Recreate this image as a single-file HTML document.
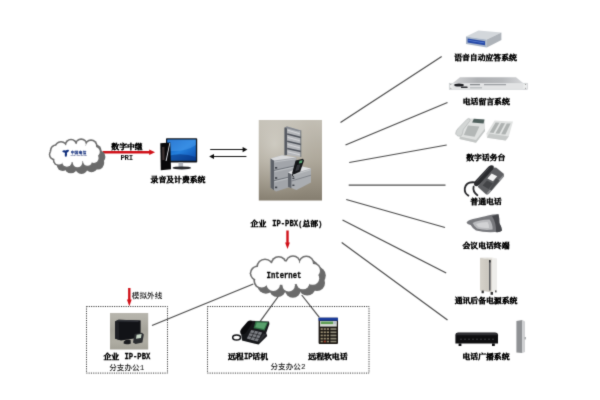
<!DOCTYPE html>
<html lang="zh-CN">
<head>
<meta charset="utf-8">
<title>企业 IP-PBX 组网图</title>
<style>
html,body{margin:0;padding:0;background:#fff;}
body{width:600px;height:400px;overflow:hidden;position:relative;}
#stage{position:absolute;left:0;top:0;width:600px;height:400px;background:#fff;overflow:hidden;will-change:transform;filter:url(#soft);}
svg{position:absolute;left:0;top:0;}
.t{position:absolute;white-space:nowrap;line-height:1;color:#000;transform:translateX(-50%) scaleY(0.9);transform-origin:50% 50%;
   font-family:"Liberation Mono","Noto Serif CJK SC",serif;font-weight:400;font-size:7.85px;-webkit-text-stroke:0.65px #000;}
.l{font-weight:700;-webkit-text-stroke:0.3px #000;}
.l{display:inline-block;font-size:9.2px;line-height:0;transform:scaleX(0.78);transform-origin:0 50%;vertical-align:baseline;}
.r{font-family:"Liberation Mono","Noto Sans CJK SC",sans-serif;font-weight:500;font-size:7.6px;color:#111;-webkit-text-stroke:0;transform:translateX(-50%) scaleY(0.96);}
.box{position:absolute;border:1px dotted #3c3c3c;box-sizing:border-box;}
</style>
</head>
<body>
<svg width="0" height="0" style="position:absolute;width:0;height:0;" aria-hidden="true">
<filter id="soft" x="0" y="0" width="100%" height="100%" color-interpolation-filters="sRGB"><feConvolveMatrix order="3" kernelMatrix="0.02 0.09 0.02 0.09 0.56 0.09 0.02 0.09 0.02" divisor="1" edgeMode="duplicate" preserveAlpha="true"/></filter>
</svg>
<div id="stage">
<svg width="600" height="400" viewBox="0 0 600 400">
<defs>
<linearGradient id="gpbx" x1="0" y1="0" x2="0" y2="1">
<stop offset="0" stop-color="#c4c0b6"/><stop offset="0.5" stop-color="#aea89b"/><stop offset="0.8" stop-color="#968f81"/><stop offset="1" stop-color="#857e70"/>
</linearGradient>
<radialGradient id="gpbxr" cx="0.25" cy="0.3" r="0.8">
<stop offset="0" stop-color="#e0ded7" stop-opacity="0.55"/><stop offset="0.6" stop-color="#c8c4ba" stop-opacity="0.2"/><stop offset="1" stop-color="#a09888" stop-opacity="0"/>
</radialGradient>
<linearGradient id="grack" x1="0" y1="0" x2="1" y2="0">
<stop offset="0" stop-color="#d2d3d5"/><stop offset="0.35" stop-color="#aeb0b3"/><stop offset="0.7" stop-color="#b6b8bb"/><stop offset="1" stop-color="#d6d7d9"/>
</linearGradient>
<linearGradient id="gups" x1="0" y1="0" x2="1" y2="0">
<stop offset="0" stop-color="#d6d2ca"/><stop offset="0.6" stop-color="#cbc7bf"/><stop offset="1" stop-color="#dedbd5"/>
</linearGradient>
<linearGradient id="gpbx2" x1="0" y1="0" x2="0" y2="1">
<stop offset="0" stop-color="#b8b6ae"/><stop offset="0.45" stop-color="#a6a49b"/><stop offset="0.8" stop-color="#aeaca2"/><stop offset="1" stop-color="#a3a197"/>
</linearGradient>
<linearGradient id="gmon" x1="0" y1="0" x2="1" y2="1">
<stop offset="0" stop-color="#0b56b8"/><stop offset="0.5" stop-color="#2480dc"/><stop offset="1" stop-color="#0a48a8"/>
</linearGradient>
</defs>

<!-- radiating lines -->
<g stroke="#4c4c4c" stroke-width="1.2" fill="none" stroke-linecap="butt">
<line x1="340.5" y1="122.5" x2="441.7" y2="56.5"/>
<line x1="345.5" y1="145" x2="447.5" y2="102.5"/>
<line x1="349.2" y1="162.5" x2="446.7" y2="145"/>
<line x1="348.7" y1="185.1" x2="445.5" y2="185.1" stroke-width="1.4"/>
<line x1="346.2" y1="199.5" x2="445" y2="227.5"/>
<line x1="342.5" y1="220" x2="446.2" y2="273"/>
<line x1="341.7" y1="242.5" x2="447.5" y2="320"/>
<line x1="253.3" y1="284" x2="152" y2="325.5"/>
<line x1="279.3" y1="295" x2="260" y2="321.7"/>
<line x1="301.7" y1="295" x2="319.3" y2="317.3"/>
</g>

<!-- dotted boxes -->
<g fill="none" stroke="#303030" stroke-width="1" stroke-dasharray="1.1 1.2">
<rect x="86.5" y="306.5" width="81" height="66.6"/>
<rect x="207.5" y="306.5" width="161.5" height="66.6"/>
</g>

<!-- double arrows -->
<g stroke="#161616" stroke-width="1.1" fill="#0c0c0c">
<line x1="210.2" y1="149.5" x2="244" y2="149.5"/>
<path d="M247.4 149.6 L242.6 147 L242.6 152.2 Z" stroke="none"/>
<line x1="213" y1="156.5" x2="246.4" y2="156.5"/>
<path d="M209.2 156.5 L214 153.9 L214 159.1 Z" stroke="none"/>
</g>

<!-- red arrows -->
<g stroke="#d01018" fill="#d01018">
<line x1="102.6" y1="152.2" x2="150.4" y2="152.2" stroke-width="2.4"/>
<path d="M155 152.3 L149.2 149.6 L149.2 155 Z" stroke="none"/>
<line x1="287.5" y1="230.5" x2="287.5" y2="243.4" stroke-width="2.4"/>
<path d="M287.5 249 L285.1 242.4 L289.9 242.4 Z" stroke="none"/>
<line x1="129.3" y1="288" x2="129.3" y2="300.4" stroke-width="2.4"/>
<path d="M129.3 306.2 L126.9 299.6 L131.7 299.6 Z" stroke="none"/>
</g>

<!-- telecom cloud -->
<g transform="translate(4,5)" fill="#6a6a6a">
<ellipse cx="61.0" cy="147.8" rx="6.8" ry="6.8"/>
<ellipse cx="71.0" cy="145.1" rx="6.4" ry="6.4"/>
<ellipse cx="81.2" cy="144.5" rx="6.2" ry="6.2"/>
<ellipse cx="91.0" cy="146.0" rx="6.7" ry="6.7"/>
<ellipse cx="95.0" cy="151.9" rx="6.4" ry="6.4"/>
<ellipse cx="93.8" cy="158.1" rx="6.4" ry="6.4"/>
<ellipse cx="87.5" cy="161.2" rx="6.0" ry="6.0"/>
<ellipse cx="77.5" cy="162.5" rx="6.4" ry="6.4"/>
<ellipse cx="66.9" cy="161.9" rx="6.4" ry="6.4"/>
<ellipse cx="58.8" cy="160.0" rx="6.0" ry="6.0"/>
<ellipse cx="54.8" cy="154.4" rx="6.0" ry="6.0"/>
<ellipse cx="56.2" cy="150.6" rx="6.4" ry="6.4"/>
<ellipse cx="75.0" cy="153.1" rx="19.6" ry="10.8"/>
</g>
<g fill="#6e6e6e">
<ellipse cx="61.0" cy="147.8" rx="6.8" ry="6.8"/>
<ellipse cx="71.0" cy="145.1" rx="6.4" ry="6.4"/>
<ellipse cx="81.2" cy="144.5" rx="6.2" ry="6.2"/>
<ellipse cx="91.0" cy="146.0" rx="6.7" ry="6.7"/>
<ellipse cx="95.0" cy="151.9" rx="6.4" ry="6.4"/>
<ellipse cx="93.8" cy="158.1" rx="6.4" ry="6.4"/>
<ellipse cx="87.5" cy="161.2" rx="6.0" ry="6.0"/>
<ellipse cx="77.5" cy="162.5" rx="6.4" ry="6.4"/>
<ellipse cx="66.9" cy="161.9" rx="6.4" ry="6.4"/>
<ellipse cx="58.8" cy="160.0" rx="6.0" ry="6.0"/>
<ellipse cx="54.8" cy="154.4" rx="6.0" ry="6.0"/>
<ellipse cx="56.2" cy="150.6" rx="6.4" ry="6.4"/>
<ellipse cx="75.0" cy="153.1" rx="19.6" ry="10.8"/>
</g>
<g fill="#fff">
<ellipse cx="61.0" cy="147.8" rx="5.2" ry="5.2"/>
<ellipse cx="71.0" cy="145.1" rx="4.8" ry="4.8"/>
<ellipse cx="81.2" cy="144.5" rx="4.6" ry="4.6"/>
<ellipse cx="91.0" cy="146.0" rx="5.1" ry="5.1"/>
<ellipse cx="95.0" cy="151.9" rx="4.8" ry="4.8"/>
<ellipse cx="93.8" cy="158.1" rx="4.8" ry="4.8"/>
<ellipse cx="87.5" cy="161.2" rx="4.5" ry="4.5"/>
<ellipse cx="77.5" cy="162.5" rx="4.8" ry="4.8"/>
<ellipse cx="66.9" cy="161.9" rx="4.8" ry="4.8"/>
<ellipse cx="58.8" cy="160.0" rx="4.5" ry="4.5"/>
<ellipse cx="54.8" cy="154.4" rx="4.5" ry="4.5"/>
<ellipse cx="56.2" cy="150.6" rx="4.8" ry="4.8"/>
<ellipse cx="75.0" cy="153.1" rx="17.9" ry="9.2"/>
</g>
<g fill="#12307c">
<path d="M62.2 151.3 Q63.5 149.5 65.6 150.6 Q67.4 149.3 69.1 150.1 Q68.7 152.3 66.9 152.7 Q67.5 154.9 66.2 156.9 Q64.3 156.5 64.8 154.4 Q65.2 153.1 64.6 152.5 Q63 152.7 62.2 151.3 Z"/>
</g>

<!-- internet cloud -->
<g transform="translate(4.2,4.6)" fill="#6a6a6a">
<ellipse cx="265.0" cy="267.2" rx="8.8" ry="8.8"/>
<ellipse cx="278.7" cy="264.0" rx="8.1" ry="8.1"/>
<ellipse cx="293.0" cy="263.0" rx="7.8" ry="7.8"/>
<ellipse cx="306.3" cy="263.8" rx="8.3" ry="8.3"/>
<ellipse cx="313.3" cy="270.8" rx="8.3" ry="8.3"/>
<ellipse cx="312.7" cy="278.3" rx="8.1" ry="8.1"/>
<ellipse cx="303.0" cy="282.8" rx="8.1" ry="8.1"/>
<ellipse cx="288.7" cy="285.3" rx="7.8" ry="7.8"/>
<ellipse cx="273.3" cy="284.2" rx="8.3" ry="8.3"/>
<ellipse cx="261.7" cy="280.8" rx="8.3" ry="8.3"/>
<ellipse cx="257.5" cy="273.3" rx="7.8" ry="7.8"/>
<ellipse cx="285.8" cy="273.3" rx="29.1" ry="13.3"/>
</g>
<g fill="#6e6e6e">
<ellipse cx="265.0" cy="267.2" rx="8.8" ry="8.8"/>
<ellipse cx="278.7" cy="264.0" rx="8.1" ry="8.1"/>
<ellipse cx="293.0" cy="263.0" rx="7.8" ry="7.8"/>
<ellipse cx="306.3" cy="263.8" rx="8.3" ry="8.3"/>
<ellipse cx="313.3" cy="270.8" rx="8.3" ry="8.3"/>
<ellipse cx="312.7" cy="278.3" rx="8.1" ry="8.1"/>
<ellipse cx="303.0" cy="282.8" rx="8.1" ry="8.1"/>
<ellipse cx="288.7" cy="285.3" rx="7.8" ry="7.8"/>
<ellipse cx="273.3" cy="284.2" rx="8.3" ry="8.3"/>
<ellipse cx="261.7" cy="280.8" rx="8.3" ry="8.3"/>
<ellipse cx="257.5" cy="273.3" rx="7.8" ry="7.8"/>
<ellipse cx="285.8" cy="273.3" rx="29.1" ry="13.3"/>
</g>
<g fill="#fff">
<ellipse cx="265.0" cy="267.2" rx="7.2" ry="7.2"/>
<ellipse cx="278.7" cy="264.0" rx="6.5" ry="6.5"/>
<ellipse cx="293.0" cy="263.0" rx="6.2" ry="6.2"/>
<ellipse cx="306.3" cy="263.8" rx="6.7" ry="6.7"/>
<ellipse cx="313.3" cy="270.8" rx="6.7" ry="6.7"/>
<ellipse cx="312.7" cy="278.3" rx="6.5" ry="6.5"/>
<ellipse cx="303.0" cy="282.8" rx="6.5" ry="6.5"/>
<ellipse cx="288.7" cy="285.3" rx="6.2" ry="6.2"/>
<ellipse cx="273.3" cy="284.2" rx="6.7" ry="6.7"/>
<ellipse cx="261.7" cy="280.8" rx="6.7" ry="6.7"/>
<ellipse cx="257.5" cy="273.3" rx="6.2" ry="6.2"/>
<ellipse cx="285.8" cy="273.3" rx="27.5" ry="11.7"/>
</g>

<!-- computer -->
<g>
<rect x="166" y="138.3" width="31.2" height="24.2" rx="0.8" fill="#10141c"/>
<rect x="167.3" y="139.6" width="28.6" height="21" fill="url(#gmon)"/>
<path d="M167.3 139.6 L195.9 139.6 L195.9 145 Q184 153 167.3 150.5 Z" fill="#4c9cec" opacity="0.5"/>
<path d="M167.3 156 Q182 152 195.9 157 L195.9 160.6 L167.3 160.6 Z" fill="#062f7a" opacity="0.55"/>
<rect x="178.5" y="162.5" width="4.6" height="4.6" fill="#b4b8be"/>
<ellipse cx="181.8" cy="167.9" rx="9.3" ry="1.5" fill="#26282c"/>
<path d="M160.3 143.2 L170.3 142.4 L171 169.2 L160.8 170.2 Z" fill="#08080a"/>
<path d="M169.4 143 L170.2 143 L166.6 161 L165.6 161 Z" fill="#d9dce2"/>
<path d="M162 147 L164.4 146.8 L164.6 160 L162.2 160.3 Z" fill="#3a3030"/>
</g>

<!-- main PBX -->
<g>
<rect x="258.8" y="120" width="63.2" height="80.5" fill="url(#gpbx)"/>
<rect x="258.8" y="120" width="63.2" height="80.5" fill="url(#gpbxr)"/>
<!-- tall cabinet -->
<path d="M284.4 127.8 L287.2 126.4 L287.2 155 L284.4 155.6 Z" fill="#565a62"/>
<path d="M287.2 126.4 L301 130.4 L301 157 L287.2 155 Z" fill="#b4b6ba"/>
<path d="M284.4 127.8 L287.2 126.4 L301 130.4 L298.6 131.4 Z" fill="#83878e"/>
<g stroke="#4c5058" stroke-width="1.5">
<line x1="287.2" y1="134" x2="301" y2="137.6"/>
<line x1="287.2" y1="141.2" x2="301" y2="144.6"/>
<line x1="287.2" y1="148.4" x2="301" y2="151.6"/>
</g>
<g stroke="#dcdde0" stroke-width="0.8">
<line x1="287.6" y1="130.2" x2="300.6" y2="134"/>
<line x1="287.6" y1="137.4" x2="300.6" y2="141"/>
<line x1="287.6" y1="144.6" x2="300.6" y2="148"/>
<line x1="287.6" y1="151.8" x2="300.6" y2="155"/>
</g>
<line x1="300.8" y1="130.4" x2="300.8" y2="157" stroke="#60646b" stroke-width="0.8"/>
<!-- left cabinet -->
<path d="M270.6 158.6 L282 155.2 L296.4 157.4 L296.4 185 L276 191.4 L270.6 187.8 Z" fill="#a2a5aa"/>
<path d="M270.6 158.6 L274 160.6 L274 190.2 L270.6 187.8 Z" fill="#5d6168"/>
<path d="M270.6 158.6 L282 155.2 L296.4 157.4 L274 160.6 Z" fill="#d9dadc"/>
<g stroke="#6a6e75" stroke-width="0.9">
<line x1="274" y1="170.4" x2="296" y2="165.6"/>
<line x1="274" y1="180.6" x2="296" y2="175.4"/>
</g>
<g stroke="#c9cbce" stroke-width="0.7">
<line x1="274.4" y1="162" x2="296" y2="158.8"/>
<line x1="274.4" y1="171.6" x2="296" y2="166.8"/>
<line x1="274.4" y1="181.8" x2="296" y2="176.6"/>
</g>
<rect x="275" y="167" width="2.2" height="1.6" fill="#3c4047"/>
<rect x="275" y="177.2" width="2.2" height="1.6" fill="#3c4047"/>
<rect x="275" y="186.6" width="2.2" height="1.6" fill="#3c4047"/>
<!-- right cabinet -->
<path d="M288 172.4 L301 166.2 L311 168.4 L311 182.6 L296.4 190 L288 186.8 Z" fill="#aaadb1"/>
<path d="M288 172.4 L291.4 174 L291.4 188.2 L288 186.8 Z" fill="#61656c"/>
<path d="M288 172.4 L301 166.2 L311 168.4 L291.4 174 Z" fill="#dfe0e2"/>
<line x1="291.4" y1="181" x2="311" y2="175.2" stroke="#73777e" stroke-width="0.8"/>
<line x1="291.8" y1="175.2" x2="310.6" y2="169.8" stroke="#cfd1d3" stroke-width="0.7"/>
<rect x="292.4" y="177.6" width="2" height="1.4" fill="#3c4047"/>
<rect x="292.4" y="184.6" width="2" height="1.4" fill="#3c4047"/>
<!-- phone -->
<path d="M295.6 160.4 L303 158.8 L304 160.4 L300.2 171.4 L293.6 174.4 L292.2 173 Z" fill="#121316"/>
<path d="M299.6 160.8 L302.6 160.2 L301.8 163 L298.8 163.6 Z" fill="#58a672"/>
<path d="M297 165 L300.6 164.2 L298.8 170 L295.2 171.4 Z" fill="#34363b"/>
<path d="M293.4 172.6 Q291 175.4 293.6 177" fill="none" stroke="#121316" stroke-width="0.9"/>
</g>

<!-- small PBX (branch 1) -->
<g>
<rect x="110" y="313" width="38.2" height="36.5" fill="url(#gpbx2)"/>
<path d="M115 321.6 L118.5 319.8 L140.6 320.6 L140.6 337.6 L121 340.4 L115 338.6 Z" fill="#121317"/>
<path d="M115 321.6 L118.5 319.8 L140.6 320.6 L137.6 322 Z" fill="#2e3036"/>
<path d="M115 321.6 L118.8 322.6 L119.2 340 L115 338.6 Z" fill="#1f2025"/>
<path d="M134.6 334 L142 332.8 L143.8 334.4 L142.4 342.4 L135.6 344 L133 342.4 Z" fill="#2a2c2f"/>
<path d="M136.6 334.8 L141.6 334 L141 338 L136 338.8 Z" fill="#c9d8c8"/>
<path d="M123.8 341.4 Q126.6 338.6 130.6 340 L130.8 343.4 Q126.6 345 123.6 343.6 Z" fill="#1a1b1e"/>
</g>

<!-- IP phone -->
<g>
<ellipse cx="236.6" cy="337.6" rx="3.9" ry="2.5" fill="none" stroke="#121316" stroke-width="1.5"/>
<path d="M241 333 L250.4 320.8 L269 321.6 L269.4 324 L266.2 333 L267.2 336 L258.6 344.6 L242 340.4 Z" fill="#16171a"/>
<path d="M240.4 333.4 Q239.4 331 241.6 328.4 L247.6 321.6 Q249.6 319.8 251.6 320.8 Q252.8 322.2 251.6 324 L246.4 332 Q243.6 335.8 240.4 333.4 Z" fill="#0a0a0c"/>
<path d="M255.6 321.3 L268.3 321.9 L264.6 330.4 L253.6 328.2 Z" fill="#2f6e44"/>
<path d="M256.8 322.4 L266.8 322.9 L264 329 L255.2 327.3 Z" fill="#58a06c"/>
<path d="M251.2 330 L262.2 332.4 L257.6 341.6 L246.8 338.6 Z" fill="#7d7f84"/>
<g stroke="#1d1e21" stroke-width="0.7">
<line x1="249.8" y1="332.8" x2="260.8" y2="335.4"/><line x1="248.4" y1="335.8" x2="259.2" y2="338.6"/>
<line x1="254.8" y1="330.8" x2="250.4" y2="339.6"/><line x1="258.6" y1="331.6" x2="254.2" y2="340.6"/>
</g>
<path d="M263.4 333.6 L266.4 334.2 L259.6 342 L258 341.6 Z" fill="#2d2e32"/>
</g>

<!-- soft phone -->
<g>
<rect x="318.6" y="317.7" width="19.4" height="26.2" rx="0.8" fill="#1c1814"/>
<rect x="318.6" y="317.7" width="19.4" height="3" fill="#1b3c9c"/>
<rect x="320" y="321" width="16.8" height="5.6" fill="#d9dcd6"/>
<rect x="320.8" y="321.5" width="12.4" height="2.6" fill="#5f9d52"/>
<rect x="333.6" y="321.5" width="2.6" height="2.6" fill="#b8c0cc"/>
<g fill="#9c9074">
<rect x="320.6" y="328.2" width="2.2" height="1.7"/><rect x="323.7" y="328.2" width="2.2" height="1.7"/><rect x="326.8" y="328.2" width="2.2" height="1.7"/>
<rect x="320.6" y="331.4" width="2.2" height="1.7"/><rect x="323.7" y="331.4" width="2.2" height="1.7"/><rect x="326.8" y="331.4" width="2.2" height="1.7"/>
<rect x="320.6" y="334.6" width="2.2" height="1.7"/><rect x="323.7" y="334.6" width="2.2" height="1.7"/><rect x="326.8" y="334.6" width="2.2" height="1.7"/>
<rect x="320.6" y="337.8" width="2.2" height="1.7"/><rect x="323.7" y="337.8" width="2.2" height="1.7"/><rect x="326.8" y="337.8" width="2.2" height="1.7"/>
<rect x="320.6" y="340.8" width="2.2" height="1.5"/><rect x="326.8" y="340.8" width="2.2" height="1.5"/>
</g>
<rect x="323.7" y="340.6" width="2.2" height="1.8" fill="#a0402c"/>
<g fill="#8e8a78">
<rect x="330.4" y="328.2" width="6" height="1.7"/><rect x="330.4" y="331.4" width="6" height="1.7"/><rect x="330.4" y="334.6" width="6" height="1.7"/><rect x="330.4" y="337.8" width="6" height="1.7"/><rect x="330.4" y="340.8" width="6" height="1.5"/>
</g>
</g>

<!-- IVR box -->
<g>
<path d="M466 36.4 L478.4 30.6 L501.4 32.4 L486.8 39.6 Z" fill="#d3d7db"/>
<path d="M466 36.4 L486.8 39.6 L486.8 47.4 L466 44 Z" fill="#a9b5c6"/>
<path d="M467.6 38.6 L485 41.2 L485 45.2 L467.6 42.4 Z" fill="#2447a6"/>
<path d="M468.4 40 L484.2 42.4 L484.2 43.2 L468.4 40.8 Z" fill="#5f86d6"/>
<path d="M486.8 39.6 L501.4 32.4 L501.4 40 L486.8 47.4 Z" fill="#aeb3b9"/>
</g>

<!-- voicemail rack -->
<g>
<path d="M460 77.2 L516 77.2 L523.4 83.2 L452.6 83.2 Z" fill="url(#grack)"/>
<rect x="449.2" y="83.2" width="78.2" height="6.4" fill="#eceded" stroke="#b9bcbf" stroke-width="0.5"/>
<rect x="452.6" y="83.2" width="70.8" height="6.4" fill="#e2e3e4"/>
<ellipse cx="459" cy="85" rx="4.8" ry="1.5" fill="#1d1e22"/>
<rect x="461" y="86.6" width="6.6" height="1.4" rx="0.6" fill="#2a2b2f"/>
<rect x="470" y="84.2" width="10" height="1" fill="#6f7378"/>
<rect x="484" y="84.2" width="22" height="1" fill="#8a8e93"/>
<rect x="470" y="87.2" width="12" height="1.2" fill="#b4b7ba"/>
<circle cx="450.8" cy="84.6" r="0.5" fill="#777"/><circle cx="450.8" cy="88.2" r="0.5" fill="#777"/>
<circle cx="525.6" cy="84.6" r="0.5" fill="#777"/><circle cx="525.6" cy="88.2" r="0.5" fill="#777"/>
</g>

<!-- digital console -->
<g>
<path d="M460 131 L470.4 118.4 L484.8 119.2 L485 131 L476 142.8 L459.6 139 Z" fill="#dfe1e0"/>
<path d="M459.6 139 L476 142.8 L485 131 L485 128.4 L476 140 L460 136.4 Z" fill="#c3c6c5"/>
<path d="M473.8 118.8 L484.4 119.4 L483.6 123.4 L472.2 122.6 Z" fill="#4f5f5c"/>
<path d="M468 125.4 L479.4 126.4 L474.6 136.8 L463.8 135 Z" fill="#b3b7b6"/>
<path d="M455.6 134 Q455.4 130.6 459 127.4 L467 119.2 Q469 117.8 470 119 Q470.6 120.4 469.4 121.6 L463.4 129.4 L462 135 Q458.4 138 455.6 134 Z" fill="#d3d6d5" stroke="#a5a9a8" stroke-width="0.5"/>
<path d="M486.4 133.4 L494.6 120.6 L513 121.6 L508.8 136.6 L505.6 140.6 L487 137.8 Z" fill="#e1e3e2"/>
<path d="M487 137.8 L505.6 140.6 L508.8 136.6 L489 133.6 Z" fill="#c6c9c8"/>
<g fill="#aeb2b1">
<path d="M495.6 122.6 L499.4 122.8 L493.6 133 L489.6 132.6 Z"/>
<path d="M501.2 123 L505 123.2 L499.4 133.8 L495.4 133.4 Z"/>
<path d="M506.8 123.4 L510.6 123.6 L505.4 134.6 L501.2 134.2 Z"/>
</g>
</g>

<!-- ordinary phone -->
<g>
<path d="M477.6 186.8 L492.6 168.2 Q494.4 166.8 496.4 167.8 L503.4 173.6 Q504.6 175 503.6 176.8 L488.6 194 Q487 195 485.6 194 Z" fill="#5e5f62"/>
<path d="M486.4 193.6 L488.6 194 L503.6 176.8 L503.6 174.6 Z" fill="#8d8e91"/>
<path d="M474.4 185.6 Q473.2 183.4 475.6 180.6 L488.6 166.6 Q491.2 164.6 493.4 165.8 Q494.6 167.2 493 169.2 L479.6 184.6 Q477 187.4 474.4 185.6 Z" fill="#2a2b2e"/>
<path d="M489.4 167.4 L476.8 181.4" stroke="#55565a" stroke-width="0.8" fill="none"/>
<path d="M491.6 173.4 L497.2 176.2 L493 181.2 L487.4 178.4 Z" fill="#f4f4f4"/>
<path d="M482.6 185.4 L487 180.4 L493 183.6 L488.6 189 Z" fill="#434447"/>
<path d="M496 178.6 L499.6 180.4 L491.4 190.4 L489.6 189.6 Z" fill="#4a4b4e"/>
<path d="M475 182.4 Q466.2 181.2 464.8 188.2 Q464.2 193.4 468.4 195.6 M473.6 186.6 Q472.4 191.4 477.4 195.2" fill="none" stroke="#29292c" stroke-width="1.8" stroke-linecap="round"/>
</g>

<!-- conference phone -->
<g>
<path d="M466.6 222.6 Q467.6 220.4 473 219 Q483 217 488 215.6 Q494 213.8 498.4 214.2 Q499.6 218 499.4 223 Q501.8 227.4 502 230.4 Q499.6 232.6 495 232 Q484 232.6 476 230.4 Q472.6 228.6 470.6 225 Q467 224.4 466.6 222.6 Z" fill="#77787c"/>
<path d="M472.6 223 Q479 219.6 489.6 219.4 Q493 224 492.6 229.6 Q484 230.6 477 228.6 Q474 226 472.6 223 Z" fill="#b9babd"/>
<path d="M476 224 Q481 222 487.6 222 Q489.4 225 489 228 Q483 228.4 478.4 227 Z" fill="#d2d3d5"/>
<path d="M492 216 L498.4 214.2 Q499.6 218 499.4 223 Q501.8 227.4 502 230.4 Q499.6 232.6 496 232 Q496.4 223 492 216 Z" fill="#46474b"/>
</g>

<!-- UPS -->
<g>
<path d="M480 257.8 L492.6 257.8 L492.6 292.4 L480 290.4 Z" fill="url(#gups)"/>
<path d="M492.6 257.8 L497 258.4 L497 290 L492.6 292.4 Z" fill="#eeedea"/>
<path d="M480 257.8 L492.6 257.8 L497 258.4 L484.6 258.4 Z" fill="#f4f3f0"/>
<rect x="489.1" y="260.6" width="1.4" height="30" fill="#4e4f53"/>
<rect x="489" y="260" width="1.6" height="2.4" fill="#2c2d30"/>
<rect x="481.6" y="290.6" width="2.2" height="2.6" fill="#333"/>
<rect x="490.6" y="292" width="2.4" height="2.8" fill="#333"/>
<rect x="495" y="290.4" width="1.6" height="2" fill="#555"/>
</g>

<!-- amplifier + speaker -->
<g>
<path d="M455.4 335.2 Q455.4 332.4 458.4 332.4 L495 332.4 Q498 332.4 498 335.2 L498 343.4 L455.4 343.4 Z" fill="#0e0e10"/>
<path d="M457 333 L496.4 333 L497.4 335.2 L456 335.2 Z" fill="#2f2f33"/>
<rect x="458.6" y="343.4" width="2.8" height="2.6" fill="#0e0e10"/>
<rect x="492" y="343.4" width="2.8" height="2.6" fill="#0e0e10"/>
<g fill="#4a4a4f">
<circle cx="461" cy="339.2" r="0.7"/><circle cx="465" cy="339.2" r="0.7"/><circle cx="469" cy="339.2" r="0.7"/><circle cx="473" cy="339.2" r="0.7"/><circle cx="477" cy="339.2" r="0.7"/><circle cx="481" cy="339.2" r="0.7"/><circle cx="485" cy="339.2" r="0.7"/><circle cx="489" cy="339.2" r="0.7"/><circle cx="493" cy="339.2" r="0.7"/>
</g>
<path d="M516.4 321 L522.4 320 L522.4 353 L516.4 352.4 Z" fill="#8f9194"/>
<path d="M522.4 320 L525 321.4 L525 352 L522.4 353 Z" fill="#cfd0d2"/>
<rect x="524.6" y="337" width="1.2" height="2.4" fill="#9a9c9f"/>
</g>
</svg>


<div class="t" style="left:127px;top:142.7px;">数字中继</div>
<div class="t r" style="left:126.7px;top:155.05px;font-size:7.4px;letter-spacing:-0.25px;color:#111;font-weight:700;">PRI</div>
<div class="t" style="left:178px;top:176px;">录音及计费系统</div>
<div class="t" style="left:286.35px;top:219.53px;">企业 <span class="l" style="margin-left:1.69px;margin-right:-7.29px;">IP-PBX</span><span class="l" style="margin-right:-0.44px;transform:scaleX(0.9);font-size:7.4px;font-weight:700;">(</span>总部<span class="l" style="margin-right:-0.44px;transform:scaleX(0.9);font-size:7.4px;font-weight:700;">)</span></div>
<div class="t" style="left:284.15px;top:271.65px;"><span class="l" style="margin-right:-9.27px;transform:scaleX(0.79);">Internet</span></div>
<div class="t r" style="left:147.05px;top:292.68px;">模拟外线</div>
<div class="t" style="left:126.97px;top:352.8px;">企业 <span class="l" style="margin-left:0.89px;margin-right:-7.29px;">IP-PBX</span></div>
<div class="t r" style="left:126.75px;top:365.02px;">分支办公1</div>
<div class="t" style="left:248px;top:352.75px;">远程<span class="l" style="margin-right:-2.43px;">IP</span>话机</div>
<div class="t" style="left:327.95px;top:353.25px;">远程软电话</div>
<div class="t r" style="left:288px;top:364.4px;">分支办公2</div>
<div class="t" style="left:485.5px;top:54.1px;">语音自动应答系统</div>
<div class="t" style="left:486.25px;top:98.1px;">电话留言系统</div>
<div class="t" style="left:485.8px;top:153.8px;">数字话务台</div>
<div class="t" style="left:486px;top:198.3px;">普通电话</div>
<div class="t" style="left:486px;top:242.4px;">会议电话终端</div>
<div class="t" style="left:486px;top:297px;">通讯后备电源系统</div>
<div class="t" style="left:486px;top:353.3px;">电话广播系统</div>
<div class="t" style="left:78.5px;top:151.3px;font-size:3.9px;color:#15317e;font-family:'Liberation Sans','Noto Sans CJK SC',sans-serif;font-weight:900;-webkit-text-stroke:0;transform:translateX(-50%);">中国电信</div>
<div class="t" style="left:78.5px;top:155px;font-size:1.95px;color:#3c4a7c;font-family:'Liberation Sans',sans-serif;font-weight:700;-webkit-text-stroke:0;transform:translateX(-50%);">CHINA TELECOM</div>
</div>
</body>
</html>
